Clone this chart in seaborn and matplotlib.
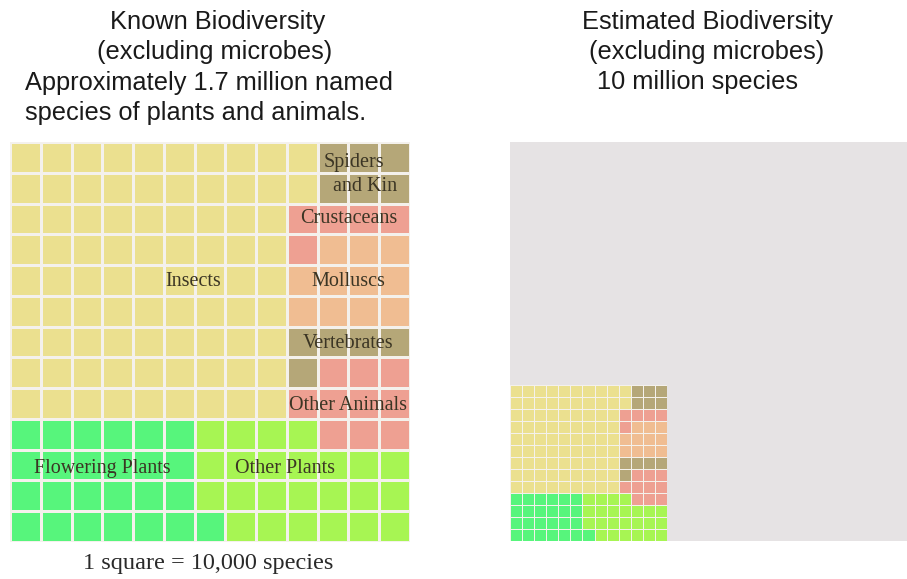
import numpy as np
import matplotlib
matplotlib.use('Agg')
import matplotlib.pyplot as plt
from matplotlib.colors import ListedColormap
import seaborn as sns

# Grupy gatunkow (1 kwadrat = 10 000 gatunkow)
groups = ['Insects', 'Spiders', 'Crustaceans', 'Molluscs',
          'Vertebrates', 'Other Animals', 'Flowering Plants', 'Other Plants']
group_codes = ['I', 'S', 'C', 'M', 'V', 'A', 'F', 'P']
group_colors = ['#EBE08F', '#B5A778', '#EEA092', '#F0BD92',
                '#B5A778', '#EEA092', '#57F57C', '#A7F553']

# Uklad kwadratow 13 x 13, wiersz po wierszu od gory
grid_rows = [
    'IIIIIIIIIISSS',
    'IIIIIIIIIISSS',
    'IIIIIIIIICCCC',
    'IIIIIIIIICMMM',
    'IIIIIIIIIMMMM',
    'IIIIIIIIIMMMM',
    'IIIIIIIIIVVVV',
    'IIIIIIIIIVAAA',
    'IIIIIIIIIAAAA',
    'FFFFFFPPPPAAA',
    'FFFFFFPPPPPPP',
    'FFFFFFPPPPPPP',
    'FFFFFFFPPPPPP',
]

# Etykiety: tekst, kolumna, wiersz
label_texts = ['Insects', 'Spiders', 'and Kin', 'Crustaceans', 'Molluscs',
               'Vertebrates', 'Other Animals', 'Flowering Plants', 'Other Plants']
label_cols = [5.95, 11.18, 11.54, 11.0, 11.0, 11.0, 11.0, 3.0, 8.95]
label_rows = [4.55, 0.68, 1.45, 2.5, 4.55, 6.56, 8.55, 10.6, 10.6]

grid = np.array([[group_codes.index(ch) for ch in row] for row in grid_rows])
cmap = ListedColormap(group_colors)

W, H = 907, 579
fig = plt.figure(figsize=(W / 100, H / 100), dpi=100)
fig.patch.set_facecolor('white')


def px_axes(x0, y0, x1, y1):
    return fig.add_axes([x0 / W, 1 - y1 / H, (x1 - x0) / W, (y1 - y0) / H])


serif = ['Liberation Serif', 'DejaVu Serif']
sans = ['Liberation Sans', 'DejaVu Sans']
label_color = '#3b3524'
title_color = '#1a1a1a'
title_size = 18.3

# Lewy panel: znana bioroznorodnosc
ax_left = px_axes(10, 142, 410, 542)
sns.heatmap(grid, ax=ax_left, cmap=cmap, vmin=-0.5, vmax=len(groups) - 0.5,
            cbar=False, linewidths=0.9, linecolor='#F4F1EC', square=False,
            xticklabels=False, yticklabels=False)
for txt, c, r in zip(label_texts, label_cols, label_rows):
    ax_left.text(c, r, txt, ha='center', va='center', fontsize=14.5,
                 family=serif, color=label_color)

# Prawy panel: szacowana bioroznorodnosc
ax_bg = px_axes(510, 142, 910, 541)
ax_bg.set_facecolor('#E6E3E4')
ax_bg.set_xticks([])
ax_bg.set_yticks([])
for s in ax_bg.spines.values():
    s.set_visible(False)

ax_small = px_axes(510, 385, 667, 541)
sns.heatmap(grid, ax=ax_small, cmap=cmap, vmin=-0.5, vmax=len(groups) - 0.5,
            cbar=False, linewidths=0.4, linecolor='#F4F1EC',
            xticklabels=False, yticklabels=False)

# Tytuly
fig.text(218 / W, 1 - 22 / H, 'Known Biodiversity', ha='center', va='center',
         fontsize=title_size, family=sans, color=title_color)
fig.text(215 / W, 1 - 52 / H, '(excluding microbes)', ha='center', va='center',
         fontsize=title_size, family=sans, color=title_color)
fig.text(25 / W, 1 - 83 / H, 'Approximately 1.7 million named', ha='left', va='center',
         fontsize=title_size, family=sans, color=title_color)
fig.text(25 / W, 1 - 113 / H, 'species of plants and animals.', ha='left', va='center',
         fontsize=title_size, family=sans, color=title_color)

fig.text(708 / W, 1 - 22 / H, 'Estimated Biodiversity', ha='center', va='center',
         fontsize=title_size, family=sans, color=title_color)
fig.text(707 / W, 1 - 52 / H, '(excluding microbes)', ha='center', va='center',
         fontsize=title_size, family=sans, color=title_color)
fig.text(597 / W, 1 - 82 / H, '10 million species', ha='left', va='center',
         fontsize=title_size, family=sans, color=title_color)

fig.text(208 / W, 1 - 564 / H, '1 square = 10,000 species', ha='center', va='center',
         fontsize=17.5, family=serif, color='#2a2a2a')

fig.savefig('out.png', dpi=100, facecolor='white')
